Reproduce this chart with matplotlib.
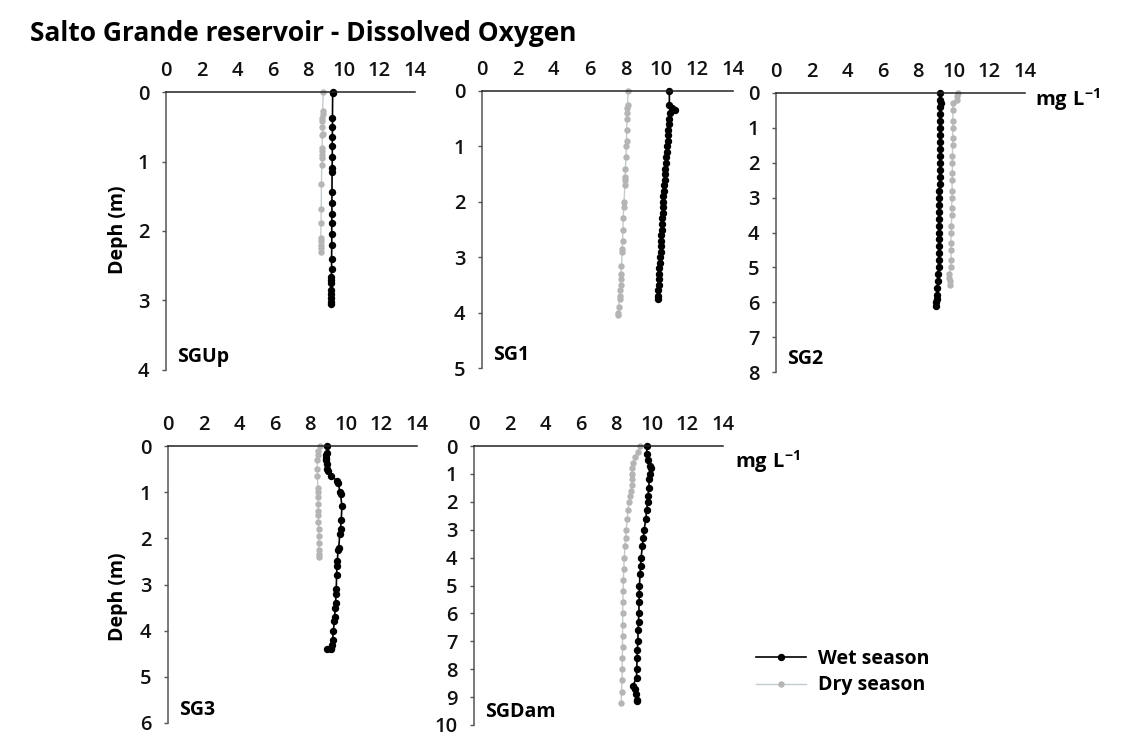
import matplotlib
matplotlib.use("Agg")
import matplotlib.pyplot as plt

plt.rcParams["font.family"] = ["Open Sans", "DejaVu Sans"]
plt.rcParams["mathtext.fontset"] = "custom"
plt.rcParams["mathtext.bf"] = "Open Sans:bold"
plt.rcParams["mathtext.rm"] = "Open Sans"

# ---- data ----
title = "Salto Grande reservoir - Dissolved Oxygen"
stations = ["SGUp", "SG1", "SG2", "SG3", "SGDam"]
max_depth = [4, 5, 8, 6, 10]
x_ticks = [0, 2, 4, 6, 8, 10, 12, 14]

sgup_wet_depth = [0, 0.02, 0.37, 0.5, 0.65, 0.77, 0.94, 1.1, 1.15, 1.44, 1.6, 1.75, 1.89,
                  2.04, 2.2, 2.4, 2.54, 2.66, 2.71, 2.75, 2.85, 2.9, 2.97, 3.02, 3.05]
sgup_wet_do = [9.37, 9.37, 9.36, 9.36, 9.35, 9.35, 9.35, 9.34, 9.34, 9.33, 9.33, 9.33, 9.32,
               9.32, 9.32, 9.31, 9.31, 9.3, 9.3, 9.3, 9.29, 9.29, 9.29, 9.28, 9.28]
sgup_dry_depth = [0, 0.28, 0.32, 0.37, 0.42, 0.5, 0.6, 0.62, 0.8, 0.85, 0.9, 0.95, 1.05,
                  1.33, 1.68, 1.88, 2.1, 2.15, 2.2, 2.25, 2.3]
sgup_dry_do = [8.85, 8.8, 8.8, 8.79, 8.79, 8.79, 8.8, 8.79, 8.78, 8.77, 8.77, 8.77, 8.76,
               8.74, 8.73, 8.72, 8.7, 8.7, 8.69, 8.69, 8.69]

sg1_wet_depth = [0, 0.25, 0.3, 0.35, 0.4, 0.5, 0.6, 0.7, 0.8, 0.9, 1.0, 1.1, 1.2, 1.3, 1.4,
                 1.5, 1.6, 1.7, 1.8, 1.9, 2.0, 2.1, 2.2, 2.3, 2.4, 2.5, 2.6, 2.7, 2.8, 2.9,
                 3.0, 3.1, 3.2, 3.3, 3.4, 3.5, 3.6, 3.7, 3.75]
sg1_wet_do = [10.45, 10.45, 10.6, 10.75, 10.48, 10.44, 10.42, 10.4, 10.38, 10.35, 10.32,
              10.3, 10.28, 10.25, 10.22, 10.19, 10.18, 10.16, 10.14, 10.12, 10.1, 10.09,
              10.07, 10.06, 10.04, 10.02, 10.0, 9.99, 9.97, 9.96, 9.94, 9.92, 9.9, 9.89,
              9.87, 9.85, 9.83, 9.81, 9.8]
sg1_dry_depth = [0, 0.25, 0.3, 0.4, 0.5, 0.7, 0.9, 1.0, 1.2, 1.4, 1.55, 1.6, 1.7, 2.0, 2.1,
                 2.3, 2.5, 2.7, 2.85, 2.9, 3.15, 3.3, 3.4, 3.5, 3.6, 3.7, 3.75, 3.9, 4.0, 4.05]
sg1_dry_do = [8.15, 8.12, 8.1, 8.09, 8.08, 8.07, 8.06, 8.05, 8.03, 8.0, 7.99, 7.98, 7.97,
              7.92, 7.9, 7.88, 7.86, 7.84, 7.82, 7.82, 7.78, 7.76, 7.74, 7.73, 7.71, 7.69,
              7.67, 7.62, 7.6, 7.58]

sg2_wet_depth = [0, 0.2, 0.3, 0.4, 0.6, 0.8, 1.0, 1.2, 1.4, 1.6, 1.8, 2.0, 2.2, 2.4, 2.6,
                 2.8, 3.0, 3.2, 3.4, 3.6, 3.8, 4.0, 4.2, 4.4, 4.6, 4.8, 5.0, 5.2, 5.4, 5.6,
                 5.8, 5.9, 6.0, 6.1]
sg2_wet_do = [9.24, 9.22, 9.25, 9.24, 9.23, 9.24, 9.23, 9.23, 9.22, 9.22, 9.21, 9.22, 9.21,
              9.2, 9.2, 9.19, 9.18, 9.18, 9.18, 9.17, 9.17, 9.17, 9.16, 9.16, 9.15, 9.15,
              9.14, 9.12, 9.1, 9.08, 9.06, 9.04, 9.02, 9.0]
sg2_dry_depth = [0, 0.1, 0.2, 0.3, 0.5, 0.8, 1.0, 1.3, 1.5, 1.8, 2.0, 2.3, 2.5, 2.8, 3.0,
                 3.3, 3.5, 3.8, 4.0, 4.3, 4.5, 4.8, 5.0, 5.2, 5.3, 5.4, 5.5]
sg2_dry_do = [10.25, 10.2, 10.15, 9.95, 9.95, 9.94, 9.94, 9.93, 9.93, 9.92, 9.92, 9.91, 9.9,
              9.9, 9.89, 9.88, 9.88, 9.86, 9.85, 9.83, 9.84, 9.85, 9.83, 9.75, 9.7, 9.8, 9.8]

sg3_wet_depth = [0, 0.15, 0.2, 0.25, 0.3, 0.4, 0.5, 0.55, 0.65, 0.75, 0.8, 1.0, 1.05, 1.3,
                 1.6, 1.8, 1.9, 2.2, 2.25, 2.5, 2.6, 2.8, 3.1, 3.2, 3.4, 3.5, 3.7, 3.8, 4.0,
                 4.2, 4.3, 4.38, 4.4, 4.4]
sg3_wet_do = [8.96, 8.92, 8.9, 8.9, 8.9, 8.92, 8.94, 9.0, 9.18, 9.5, 9.58, 9.66, 9.7, 9.78,
              9.74, 9.7, 9.66, 9.6, 9.56, 9.52, 9.5, 9.48, 9.46, 9.45, 9.42, 9.4, 9.37, 9.35,
              9.3, 9.25, 9.2, 9.17, 8.96, 9.15]
sg3_dry_depth = [0, 0.1, 0.2, 0.3, 0.5, 0.65, 0.9, 1.0, 1.1, 1.25, 1.4, 1.5, 1.65, 1.8, 1.95,
                 2.1, 2.25, 2.35, 2.4]
sg3_dry_do = [8.52, 8.45, 8.42, 8.4, 8.4, 8.4, 8.43, 8.44, 8.45, 8.45, 8.46, 8.46, 8.46, 8.47,
              8.47, 8.48, 8.48, 8.49, 8.49]

sgdam_wet_depth = [0, 0.3, 0.5, 0.7, 0.8, 1.0, 1.2, 1.5, 1.8, 2.0, 2.3, 2.6, 3.0, 3.3, 3.6,
                   4.0, 4.3, 4.6, 5.0, 5.3, 5.6, 6.0, 6.3, 6.6, 7.0, 7.3, 7.6, 8.0, 8.3, 8.6,
                   8.7, 8.9, 9.1, 9.15]
sgdam_wet_do = [9.72, 9.72, 9.8, 9.9, 9.94, 9.9, 9.86, 9.82, 9.79, 9.76, 9.71, 9.66, 9.57,
                9.52, 9.46, 9.4, 9.37, 9.34, 9.3, 9.29, 9.28, 9.27, 9.25, 9.23, 9.21, 9.19,
                9.17, 9.15, 9.14, 8.93, 9.05, 9.12, 9.14, 9.15]
sgdam_dry_depth = [0, 0.2, 0.4, 0.6, 0.8, 1.0, 1.2, 1.4, 1.6, 1.8, 2.0, 2.3, 2.6, 3.0, 3.3,
                   3.6, 4.0, 4.4, 4.8, 5.2, 5.6, 6.0, 6.4, 6.8, 7.2, 7.6, 8.0, 8.4, 8.8, 9.2]
sgdam_dry_do = [9.34, 9.2, 9.05, 8.93, 8.89, 8.87, 8.87, 8.88, 8.84, 8.78, 8.72, 8.66, 8.62,
                8.56, 8.52, 8.49, 8.45, 8.42, 8.4, 8.38, 8.37, 8.36, 8.36, 8.35, 8.35, 8.34,
                8.34, 8.32, 8.3, 8.27]

wet = [(sgup_wet_do, sgup_wet_depth), (sg1_wet_do, sg1_wet_depth), (sg2_wet_do, sg2_wet_depth),
       (sg3_wet_do, sg3_wet_depth), (sgdam_wet_do, sgdam_wet_depth)]
dry = [(sgup_dry_do, sgup_dry_depth), (sg1_dry_do, sg1_dry_depth), (sg2_dry_do, sg2_dry_depth),
       (sg3_dry_do, sg3_dry_depth), (sgdam_dry_do, sgdam_dry_depth)]

W, H = 1127, 736
# axes boxes in pixels: left, right, top, bottom
boxes = [(166, 415, 92, 370), (482, 733, 91, 368), (776, 1025, 93, 372),
         (168, 417, 446, 723), (474, 723, 446, 725)]

fig = plt.figure(figsize=(W / 100, H / 100), dpi=100)

for i, name in enumerate(stations):
    l, r, t, b = boxes[i]
    ax = fig.add_axes([l / W, 1 - b / H, (r - l) / W, (b - t) / H])
    dx, dy = dry[i]
    wx, wy = wet[i]
    ld, = ax.plot(dx, dy, color="#c3cbcf", lw=1.0, marker="o", ms=3.6,
                  mfc="#b5b5b5", mec="#b5b5b5", label="Dry season", clip_on=False)
    lw_, = ax.plot(wx, wy, color="black", lw=1.2, marker="o", ms=4.3,
                   label="Wet season", clip_on=False)
    ax.set_xlim(0, 14)
    ax.set_ylim(max_depth[i], 0)
    ax.set_xticks(x_ticks)
    ax.set_yticks(range(max_depth[i] + 1))
    ax.xaxis.tick_top()
    ax.spines["right"].set_visible(False)
    ax.spines["bottom"].set_visible(False)
    ax.spines["top"].set_color("#222222")
    ax.spines["left"].set_color("#555555")
    ax.spines["top"].set_linewidth(1.1)
    ax.spines["left"].set_linewidth(1.1)
    ax.tick_params(axis="x", length=0, pad=8, labelsize=14.5, colors="#111111")
    ax.tick_params(axis="y", length=3, width=1, direction="out", pad=9, labelsize=14.5,
                   color="#555555", labelcolor="#111111")
    for lab in ax.get_xticklabels() + ax.get_yticklabels():
        lab.set_fontweight("semibold")
    ax.patch.set_alpha(0)
    ax.annotate(name, xy=(0, 0), xycoords="axes fraction", xytext=(11, 8),
                textcoords="offset pixels", fontsize=14, fontweight="bold", va="baseline")

fig.text(30 / W, 1 - 41 / H, title, fontsize=19, fontweight="bold", va="baseline")
for yc in [230, 597]:
    fig.text(118 / W, 1 - yc / H, "Deph (m)", rotation=90, fontsize=14, fontweight="bold",
             ha="center", va="center")
unit = r"$\mathbf{mg\ L^{-1}}$"
fig.text(1035 / W, 1 - 100 / H, unit, fontsize=14.5, va="center")
fig.text(735 / W, 1 - 462 / H, unit, fontsize=14.5, va="center")

fig.legend([lw_, ld], ["Wet season", "Dry season"], loc="center left",
           bbox_to_anchor=(738 / W, 1 - 672 / H), frameon=False, handlelength=2.6,
           handletextpad=0.6, labelspacing=0.35, prop={"weight": "bold", "size": 14})

fig.savefig("out.png", dpi=100)
